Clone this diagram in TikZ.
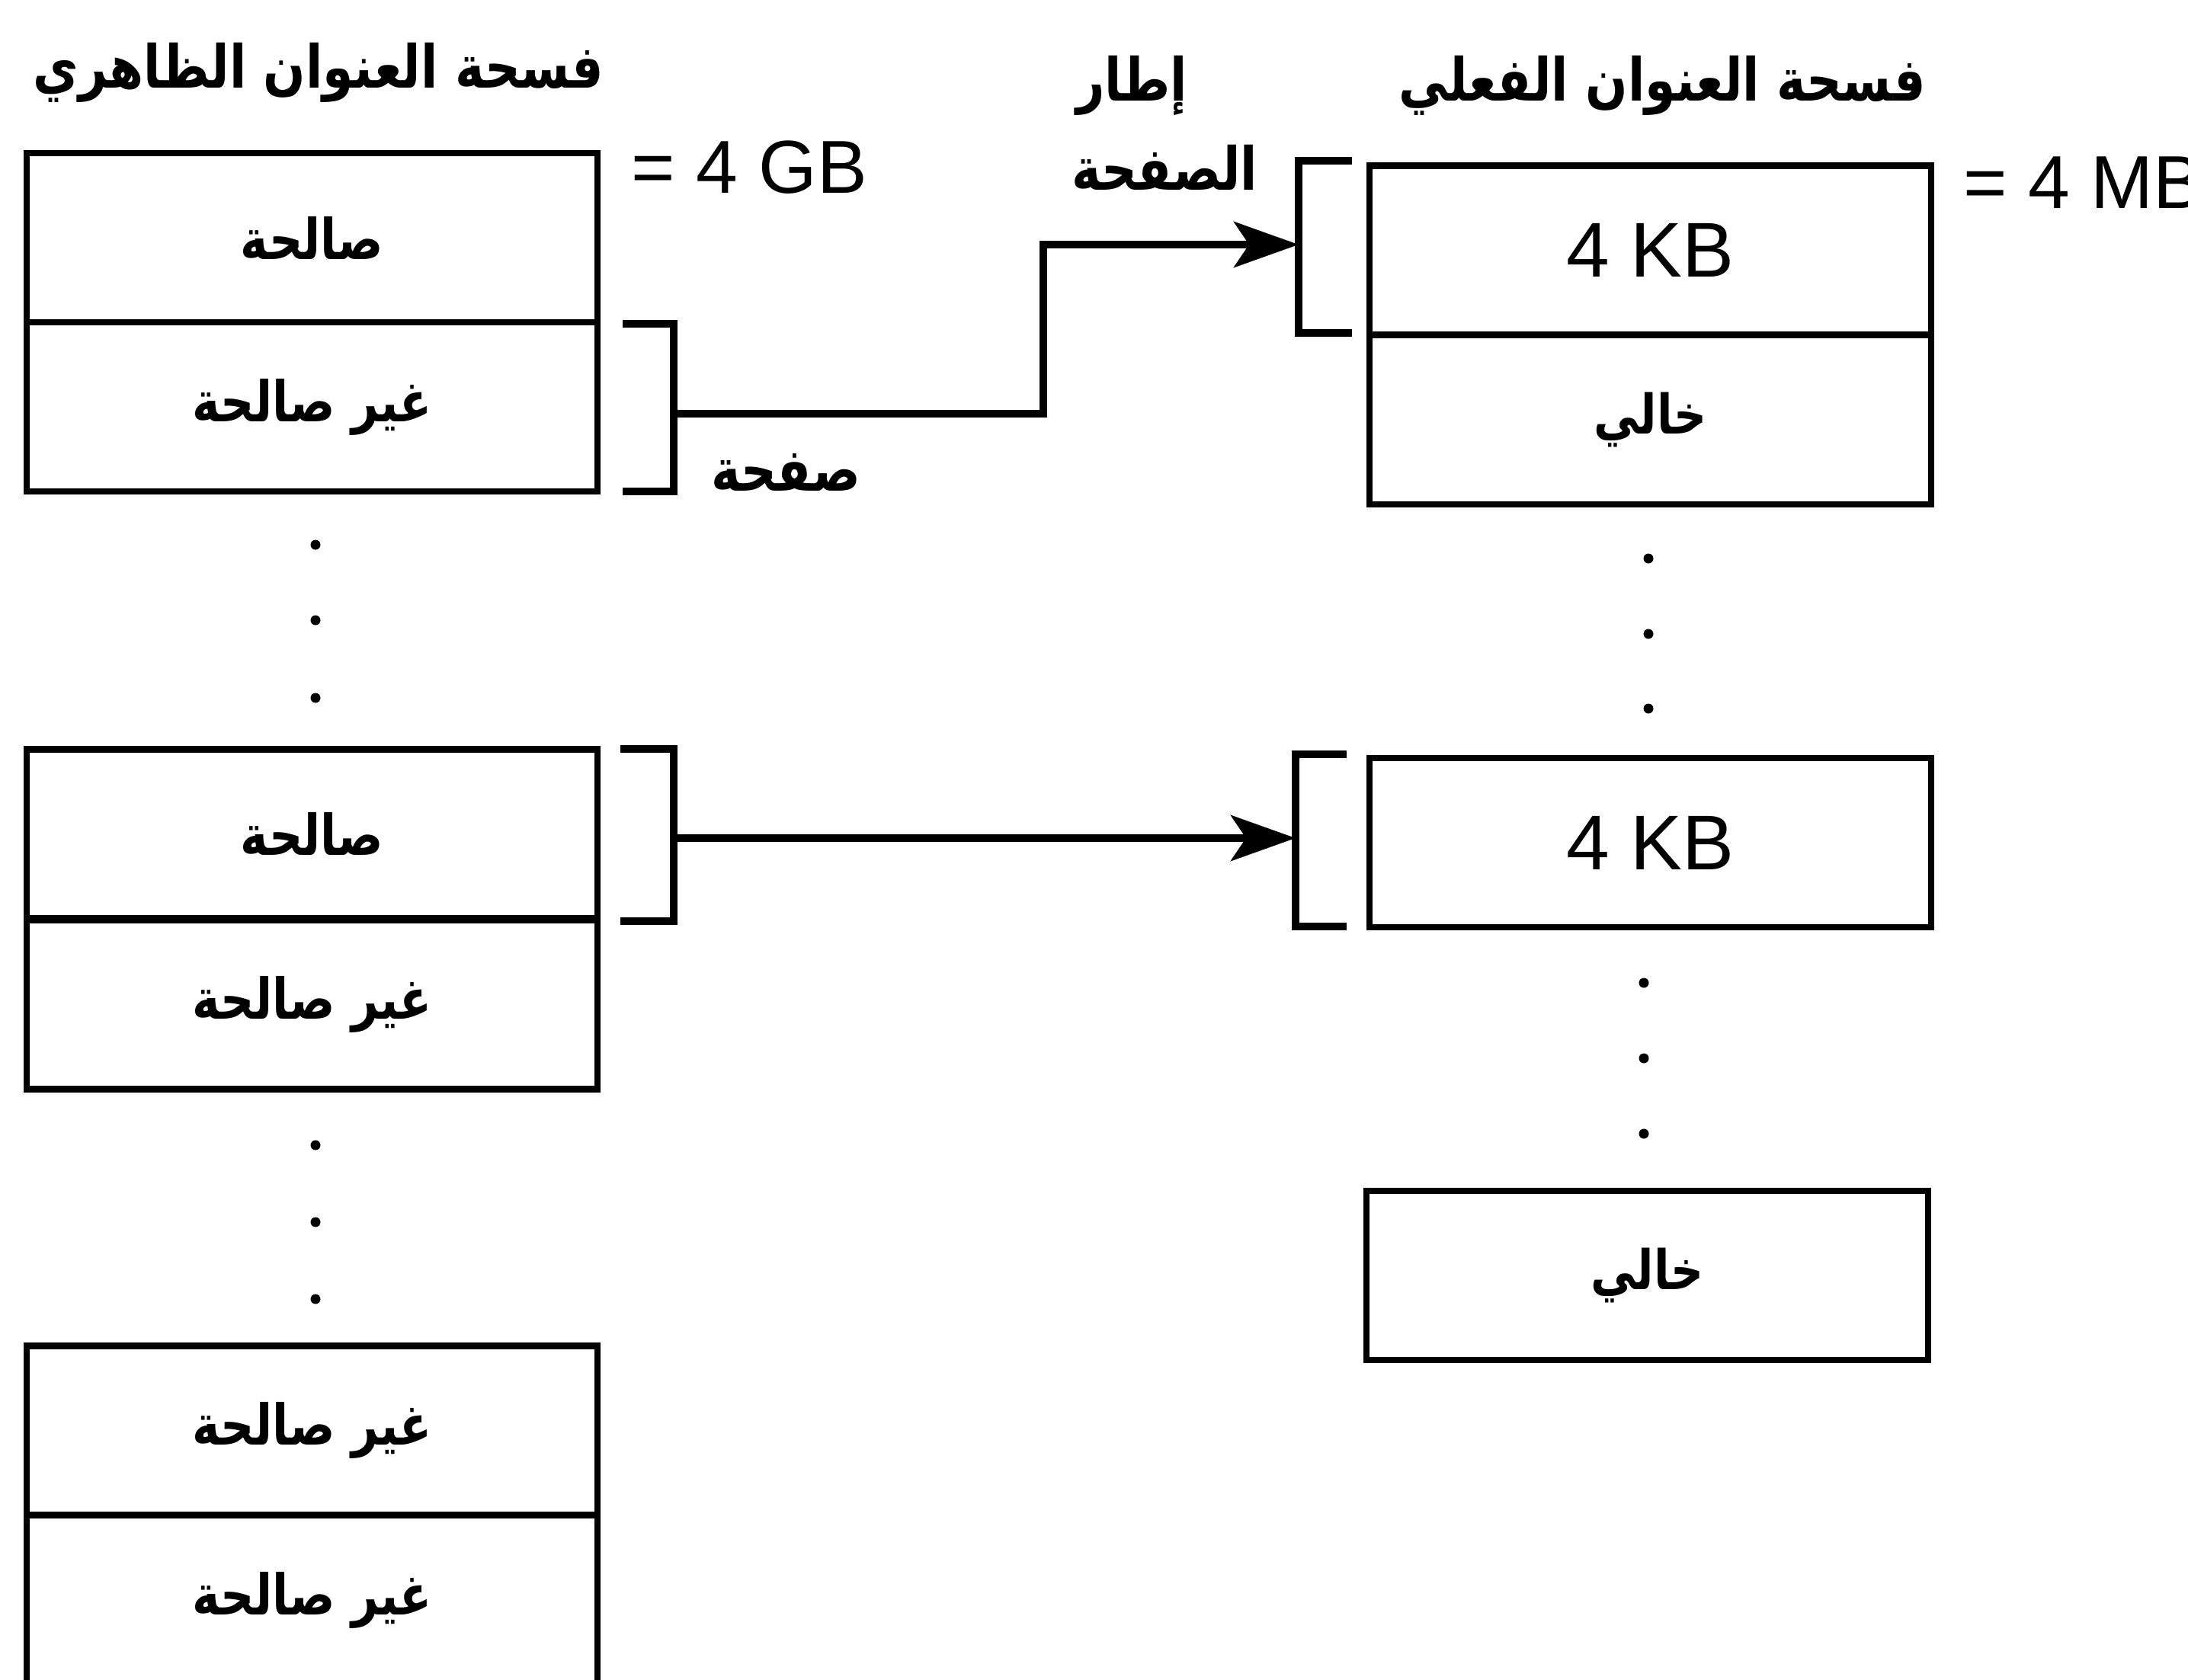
\documentclass[tikz,border=0pt]{standalone}
\usepackage{graphicx}
\usepackage{fontspec}
\setmainfont{Liberation Sans}
\newfontfamily\arabicfont[Script=Arabic]{DejaVu Sans}
\TeXXeTstate=1
\usetikzlibrary{arrows.meta}
\newcommand{\artxt}[1]{\scalebox{1}[1.2]{\arabicfont\bfseries\beginR #1\endR}}
\begin{document}
\begin{tikzpicture}[x=1cm,y=1cm,
  lcell/.style={draw, line width=2.4pt, minimum width=7.49cm, minimum height=2.22cm, inner sep=0pt, font=\fontsize{17.5}{21}\selectfont},
  rcell/.style={draw, line width=2.4pt, minimum width=7.37cm, minimum height=2.22cm, inner sep=0pt, font=\fontsize{29}{34}\selectfont},
  arcell/.style={font=\fontsize{17}{21}\selectfont},
  brk/.style={line width=2.6pt},
  conn/.style={line width=2.6pt, -{Stealth[length=0.85cm,width=0.6cm,inset=0.2cm]}},
  title/.style={font=\fontsize{18.5}{22}\selectfont, inner sep=0pt},
  lab/.style={font=\fontsize{18.5}{22}\selectfont, inner sep=0pt},
  size/.style={font=\fontsize{28}{32}\selectfont, inner sep=0pt, anchor=west},
  dotm/.style={fill=black}]
\useasboundingbox (0,0) rectangle (28.71,-22.05);

% titles
\node[title] (tl) at (4.18,-0.95) {\artxt{فسحة العنوان الظاهري}};
\node[title] (tr) at (21.81,-1.12) {\artxt{فسحة العنوان الفعلي}};
\node[lab] (fr1) at (14.85,-1.12) {\artxt{إطار}};
\node[lab] (fr2) at (15.28,-2.20) {\artxt{الصفحة}};
\node[lab] (pg) at (10.31,-6.20) {\artxt{صفحة}};
\node[size] (gb) at (8.28,-2.20) {= 4 GB};
\node[size] (mb) at (25.76,-2.40) {= 4 MB};

% left (virtual) column
\node[lcell] (l1a) at (4.095,-3.12) {\artxt{صالحة}};
\node[lcell] (l1b) at (4.095,-5.34) {\artxt{غير صالحة}};
\node[lcell] (l2a) at (4.095,-10.945) {\artxt{صالحة}};
\node[lcell] (l2b) at (4.095,-13.185) {\artxt{غير صالحة}};
\node[lcell] (l3a) at (4.095,-18.775) {\artxt{غير صالحة}};
\node[lcell] (l3b) at (4.095,-21.0) {\artxt{غير صالحة}};

% right (physical) column
\node[rcell] (r1a) at (21.655,-3.285) {4 KB};
\node[rcell, arcell] (r1b) at (21.655,-5.51) {\artxt{خالي}};
\node[rcell] (r2) at (21.655,-11.06) {4 KB};
\node[rcell, arcell] (r3) at (21.615,-16.74) {\artxt{خالي}};

% dots
\foreach \y in {7.15,8.14,9.16,15.03,16.04,17.05} \fill[dotm] (4.14,-\y) circle (0.065);
\foreach \y in {7.33,8.32,9.30} \fill[dotm] (21.63,-\y) circle (0.065);
\foreach \y in {12.90,13.89,14.88} \fill[dotm] (21.57,-\y) circle (0.065);

% brackets
\draw[brk] (8.17,-4.25) -| (8.84,-6.45) -- (8.17,-6.45);
\coordinate (lb1) at (8.84,-5.43);
\draw[brk] (8.14,-9.83) -| (8.84,-12.09) -- (8.14,-12.09);
\coordinate (lb2) at (8.84,-11.0);
\draw[brk] (17.74,-2.11) -| (17.04,-4.37) -- (17.74,-4.37);
\coordinate (rb1) at (17.04,-3.21);
\draw[brk] (17.67,-9.90) -| (17.00,-12.16) -- (17.67,-12.16);
\coordinate (rb2) at (17.00,-11.0);

% connectors
\draw[conn] (lb1) -- ++(4.85,0) |- (rb1);
\draw[conn] (lb2) -- (rb2);
\end{tikzpicture}
\end{document}
